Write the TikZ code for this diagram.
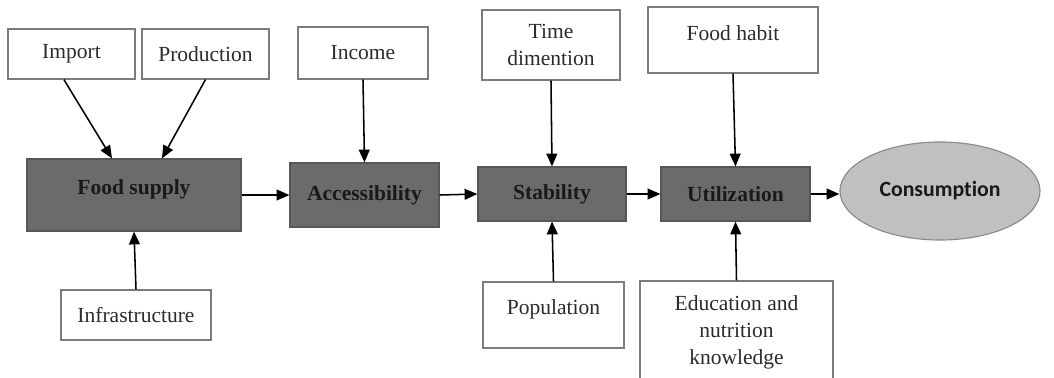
\documentclass[tikz,border=0pt]{standalone}
\usepackage{fontspec}
\setmainfont{Liberation Serif}
\newfontfamily\consfont[Ligatures=NoCommon]{Carlito}
\usepackage{xcolor}
\usetikzlibrary{arrows.meta, shapes.geometric, positioning}

\definecolor{framegray}{HTML}{7C7C7C}
\definecolor{pillargray}{HTML}{6B6B6B}
\definecolor{pillarframe}{HTML}{575757}
\definecolor{goalgray}{HTML}{C0C0C0}
\definecolor{goalframe}{HTML}{8A8A8A}
\definecolor{inktext}{HTML}{2B2B2B}

\begin{document}
\begin{tikzpicture}[
  x=0.025cm, y=-0.025cm,
  factor/.style={rectangle, draw=framegray, line width=0.8pt, fill=white, align=center, inner sep=0pt, text=inktext, font=\fontsize{15.3}{19.2}\selectfont},
  pillar/.style={rectangle, draw=pillarframe, line width=0.8pt, fill=pillargray, inner sep=0pt, text=black!90, font=\fontsize{15.3}{19.2}\selectfont\bfseries},
  goal/.style={ellipse, draw=goalframe, line width=0.8pt, fill=goalgray, inner sep=0pt, text=black!90, font=\consfont\fontsize{15.5}{19}\selectfont\bfseries},
  lift/.style={text depth=#1},
  arrow/.style={-{Triangle[length=0.32cm, width=0.27cm]}, line width=1.1pt}
]
  \useasboundingbox (0,0) rectangle (1054,377);

  % outside factors
  \node[factor, minimum width=3.175cm, minimum height=1.25cm] (import) at (71.5,54) {Import};
  \node[factor, minimum width=3.175cm, minimum height=1.25cm] (production) at (205.5,54) {Production};
  \node[factor, minimum width=3.25cm, minimum height=1.3cm] (income) at (363,53) {Income};
  \node[factor, minimum width=3.45cm, minimum height=1.75cm] (time) at (551,45) {Time\\dimention};
  \node[factor, minimum width=4.25cm, minimum height=1.65cm, lift=0.35cm] (habit) at (733,40) {Food habit};
  \node[factor, minimum width=3.75cm, minimum height=1.25cm] (infra) at (136,315) {Infrastructure};
  \node[factor, minimum width=3.525cm, minimum height=1.65cm, lift=0.42cm] (population) at (553.5,315) {Population};
  \node[factor, minimum width=4.825cm, minimum height=2.55cm, lift=0.1cm] (education) at (736.5,332) {Education and\\nutrition\\knowledge};

  % food security chain
  \node[pillar, minimum width=5.35cm, minimum height=1.8cm, lift=0.42cm] (supply) at (134,195) {Food supply};
  \node[pillar, minimum width=3.725cm, minimum height=1.6cm] (access) at (364.5,195) {Accessibility};
  \node[pillar, minimum width=3.7cm, minimum height=1.35cm] (stability) at (552,194) {Stability};
  \node[pillar, minimum width=3.725cm, minimum height=1.35cm] (utilization) at (735.5,194) {Utilization};
  \node[goal, minimum width=5cm, minimum height=2.45cm] (consumption) at (940,191) {Consumption};

  \draw[arrow] ([xshift=-0.19cm]import.south) -- ([xshift=-0.55cm]supply.north);
  \draw[arrow] (production.south) -- ([xshift=0.7cm]supply.north);
  \draw[arrow] (infra.north) -- (supply.south);
  \draw[arrow] (income.south) -- (access.north);
  \draw[arrow] (time.south) -- (stability.north);
  \draw[arrow] (population.north) -- (stability.south);
  \draw[arrow] (habit.south) -- (utilization.north);
  \draw[arrow] (education.north) -- (utilization.south);

  \draw[arrow] (supply.east) -- (access.west);
  \draw[arrow] (access.east) -- (stability.west);
  \draw[arrow] (stability.east) -- (utilization.west);
  \draw[arrow] (utilization.east) -- (utilization.east -| consumption.west);
\end{tikzpicture}
\end{document}
